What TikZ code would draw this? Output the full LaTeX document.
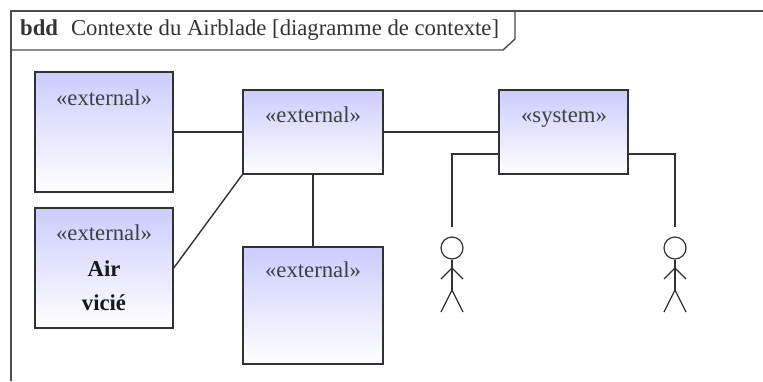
\documentclass[tikz,border=0pt]{standalone}
\usepackage{fontspec}
\setmainfont{Liberation Serif}
\definecolor{boxtop}{RGB}{204,204,255}
\definecolor{linegray}{RGB}{50,50,50}
\tikzset{
  blockbox/.style={draw=linegray, line width=1.4pt, top color=boxtop, bottom color=white, inner sep=0pt},
  stereo/.style={text=black!75, font=\fontsize{22.7}{26}\selectfont, inner sep=0pt, anchor=base},
  blockname/.style={text=black!90, font=\fontsize{22.7}{26}\selectfont\bfseries, inner sep=0pt, anchor=base},
  link/.style={draw=linegray, line width=1.4pt},
  actorline/.style={draw=linegray, line width=1.2pt}
}

\begin{document}
\begin{tikzpicture}[x=1pt, y=-1pt]
    \useasboundingbox (0, 0) rectangle (763, 381);

    % frame
    \draw [link, color=black!70] (11, 381) to (11, 11) to (763, 11);
    \draw [link, color=black!70] (11, 50) to (503, 50) to (515, 39) to (515, 11);
    \node [inner sep=0pt, anchor=base west, text=black!80, font=\fontsize{22.7}{26}\selectfont] (title) at (20, 35)
        {\textbf{bdd}\hspace{13pt}Contexte du Airblade [diagramme de contexte]};

    % blocks
    \node [blockbox, minimum width=138pt, minimum height=120pt] (topExt) at (104, 132) {};
    \node [blockbox, minimum width=138pt, minimum height=120pt] (airExt) at (104, 268) {};
    \node [blockbox, minimum width=140pt, minimum height=84pt] (midExt) at (313, 132) {};
    \node [blockbox, minimum width=140pt, minimum height=117pt] (lowExt) at (313, 305.5) {};
    \node [blockbox, minimum width=129pt, minimum height=84pt] (sysBox) at (563.5, 132) {};

    \node [stereo] (topLabel) at (104, 105) {«external»};
    \node [stereo] (airLabel) at (104, 240) {«external»};
    \node [blockname] (airLabelA) at (104, 276) {Air};
    \node [blockname] (airLabelB) at (104, 310) {vicié};
    \node [stereo] (midLabel) at (313, 122) {«external»};
    \node [stereo] (lowLabel) at (313, 277) {«external»};
    \node [stereo] (sysLabel) at (564, 122) {«system»};

    % actors
    \foreach \actorname/\actorx in {actorL/452, actorR/675} {
        \coordinate (\actorname Top) at (\actorx, 227);
        \node [actorline, circle, minimum size=22pt, inner sep=0pt] (\actorname) at (\actorx, 248) {};
        \coordinate (\actorname Hip) at (\actorx, 290);
        \coordinate (\actorname Chest) at (\actorx, 268);
        \draw [actorline] (\actorname.south) to (\actorname Hip);
        \draw [actorline] (\actorx-11, 279) to (\actorname Chest) to (\actorx+11, 279);
        \draw [actorline] (\actorx-11, 312) to (\actorname Hip) to (\actorx+11, 312);
    }

    % connectors
    \draw [link] (topExt.east) to (midExt.west);
    \draw [link] (midExt.east) to (sysBox.west);
    \draw [link] (midExt.south west) to (airExt.east);
    \draw [link] (midExt.south) to (lowExt.north);
    \draw [link] ([yshift=-22pt]sysBox.west) -| (actorLTop);
    \draw [link] ([yshift=-22pt]sysBox.east) -| (actorRTop);

  \end{tikzpicture}
\end{document}
